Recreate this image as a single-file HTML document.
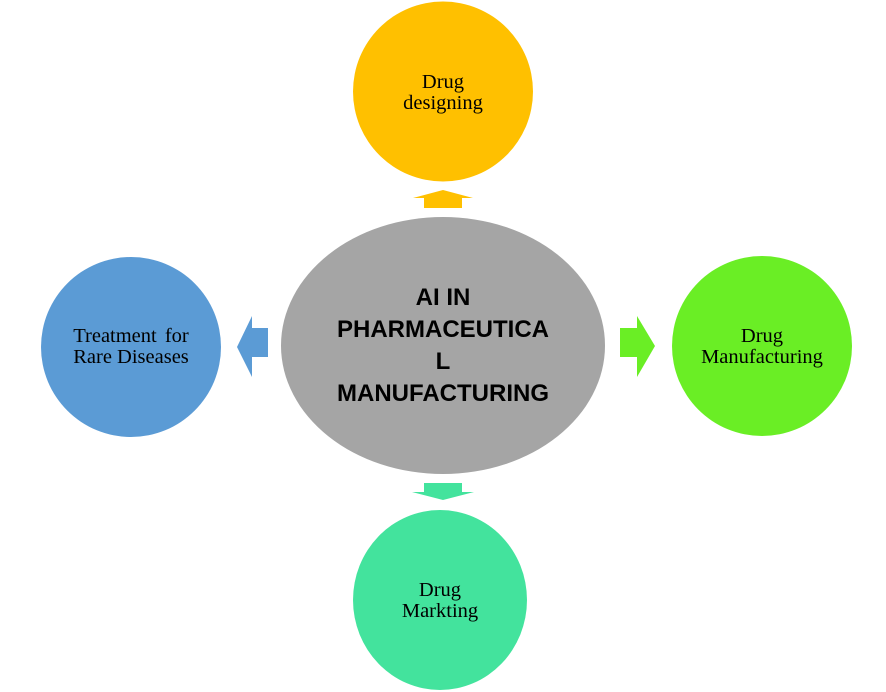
<!DOCTYPE html>
<html><head><meta charset="utf-8"><style>
html,body{margin:0;padding:0;background:#fff;width:886px;height:692px;overflow:hidden}
svg{display:block}
.t{font-family:"Liberation Serif",serif;font-size:20.5px;fill:#000}
.c{font-family:"Liberation Sans",sans-serif;font-weight:bold;font-size:24px;fill:#000}
</style></head><body>
<svg width="886" height="692" viewBox="0 0 886 692">
<circle cx="443" cy="91.5" r="90" fill="#FFC000"/>
<text class="t" x="443" y="88" text-anchor="middle">Drug</text>
<text class="t" x="443" y="109" text-anchor="middle">designing</text>

<circle cx="131" cy="347" r="90" fill="#5B9BD5"/>
<text class="t" x="131" y="342" text-anchor="middle" word-spacing="3">Treatment for</text>
<text class="t" x="131" y="363" text-anchor="middle">Rare Diseases</text>

<circle cx="762" cy="346" r="90" fill="#6AEE25"/>
<text class="t" x="762" y="342" text-anchor="middle">Drug</text>
<text class="t" x="762" y="363" text-anchor="middle">Manufacturing</text>

<ellipse cx="440" cy="600" rx="87" ry="90" fill="#43E39D"/>
<text class="t" x="440" y="596" text-anchor="middle">Drug</text>
<text class="t" x="440" y="617" text-anchor="middle">Markting</text>

<ellipse cx="443" cy="345.5" rx="162" ry="128.5" fill="#A5A5A5"/>
<text class="c" x="443" y="305" text-anchor="middle">AI IN</text>
<text class="c" x="443" y="337" text-anchor="middle">PHARMACEUTICA</text>
<text class="c" x="443" y="369" text-anchor="middle">L</text>
<text class="c" x="443" y="401" text-anchor="middle">MANUFACTURING</text>

<polygon points="443,190 473,198 462,198 462,208 424,208 424,198 413,198" fill="#FFC000"/>
<polygon points="412,492 424,492 424,483 462,483 462,492 474,492 443,500" fill="#43E39D"/>
<polygon points="237,347 252,316 252,328 268,328 268,357 252,357 252,377" fill="#5B9BD5"/>
<polygon points="655,346 637,316 637,328 620,328 620,357 637,357 637,377" fill="#6AEE25"/>
</svg>
</body></html>
